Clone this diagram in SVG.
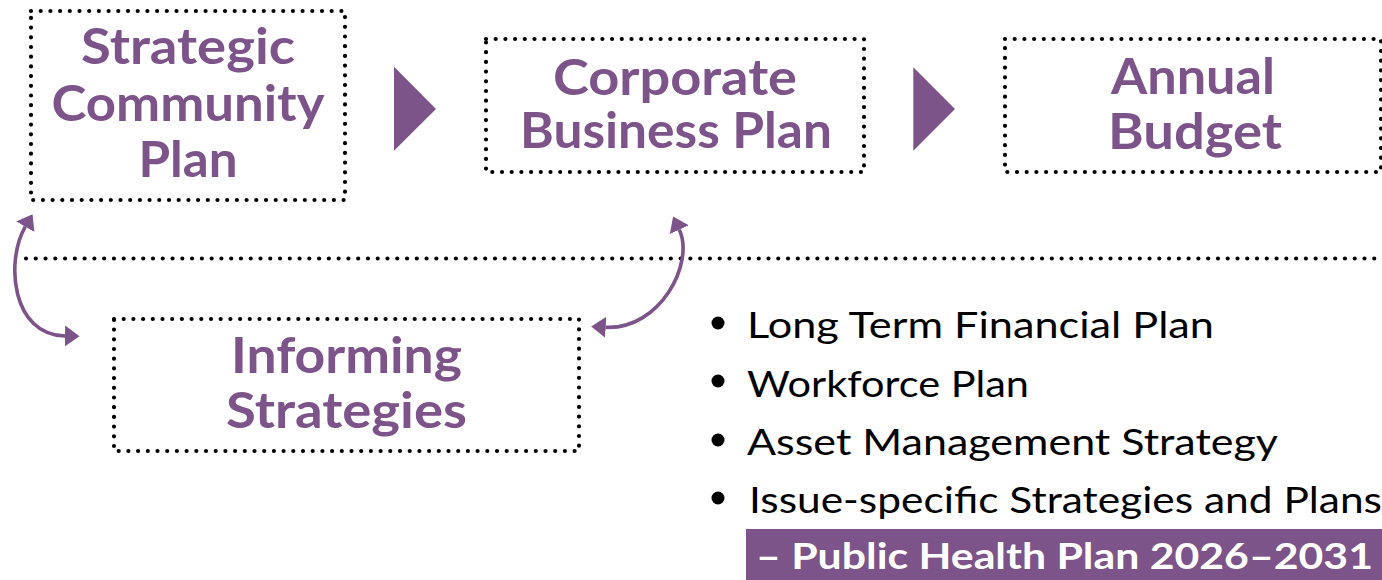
<svg xmlns="http://www.w3.org/2000/svg" width="1382" height="580" viewBox="0 0 1382 580">
  <style>
    .box { fill: none; stroke: #000; stroke-width: 4.2; stroke-linecap: round; stroke-dasharray: 0 9.7; }
    .divider { fill: none; stroke: #000; stroke-width: 4.2; stroke-linecap: round; stroke-dasharray: 0 9.77; }
    .title { font-family: Lato, "Open Sans", "Liberation Sans", sans-serif; font-weight: 700; font-size: 49px; fill: #7D5489; text-anchor: middle; }
    .item { font-family: Lato, "Open Sans", "Liberation Sans", sans-serif; font-weight: 400; font-size: 37.5px; fill: #000; }
    .highlight { font-family: Lato, "Open Sans", "Liberation Sans", sans-serif; font-weight: 700; font-size: 37px; fill: #fff; }
    .flow { fill: #7D5489; }
    .link { fill: none; stroke: #7D5489; stroke-width: 3.6; }
  </style>
  <defs>
    <marker id="head" markerUnits="userSpaceOnUse" viewBox="0 -11 15 22" refX="0" refY="0" markerWidth="15" markerHeight="22" orient="auto-start-reverse">
      <path d="M0,-10.5 L14.5,0 L0,10.5 Z" fill="#7D5489"/>
    </marker>
  </defs>

  <!-- background -->
  <rect x="0" y="0" width="1382" height="580" fill="#fff"/>

  <!-- dotted divider between plans and informing strategies -->
  <path class="divider" d="M26,258.5 H1382"/>

  <!-- plan boxes -->
  <g id="strategic-community-plan">
    <rect class="box" x="31" y="11" width="314" height="189"/>
    <text class="title" x="188" y="64" textLength="214" lengthAdjust="spacingAndGlyphs">Strategic</text>
    <text class="title" x="188" y="121" textLength="273" lengthAdjust="spacingAndGlyphs">Community</text>
    <text class="title" x="188" y="177" textLength="99" lengthAdjust="spacingAndGlyphs">Plan</text>
  </g>

  <g id="corporate-business-plan">
    <rect class="box" x="486" y="39" width="378" height="133"/>
    <text class="title" x="675" y="95" textLength="244" lengthAdjust="spacingAndGlyphs">Corporate</text>
    <text class="title" x="676" y="148" textLength="312" lengthAdjust="spacingAndGlyphs">Business Plan</text>
  </g>

  <g id="annual-budget">
    <rect class="box" x="1005" y="39" width="376" height="133"/>
    <text class="title" x="1193" y="94" textLength="164" lengthAdjust="spacingAndGlyphs">Annual</text>
    <text class="title" x="1195" y="149" textLength="174" lengthAdjust="spacingAndGlyphs">Budget</text>
  </g>

  <g id="informing-strategies">
    <rect class="box" x="114" y="319" width="465" height="132"/>
    <text class="title" x="346.5" y="373" textLength="231" lengthAdjust="spacingAndGlyphs">Informing</text>
    <text class="title" x="346.5" y="428" textLength="241" lengthAdjust="spacingAndGlyphs">Strategies</text>
  </g>

  <!-- informing strategies list -->
  <g id="strategy-list">
    <circle cx="718" cy="323" r="6.5" fill="#000"/>
    <text class="item" x="747" y="338" textLength="467" lengthAdjust="spacingAndGlyphs">Long Term Financial Plan</text>
    <circle cx="718" cy="381" r="6.5" fill="#000"/>
    <text class="item" x="747" y="397" textLength="282" lengthAdjust="spacingAndGlyphs">Workforce Plan</text>
    <circle cx="718" cy="440" r="6.5" fill="#000"/>
    <text class="item" x="747" y="455" textLength="531" lengthAdjust="spacingAndGlyphs">Asset Management Strategy</text>
    <circle cx="718" cy="498" r="6.5" fill="#000"/>
    <text class="item" x="749" y="513" textLength="633" lengthAdjust="spacingAndGlyphs">Issue-specific Strategies and Plans</text>
    <rect x="746" y="529" width="636" height="51" fill="#7D5489"/>
    <text class="highlight" x="756" y="569" textLength="617" lengthAdjust="spacingAndGlyphs">– Public Health Plan 2026–2031</text>
  </g>

  <!-- connectors -->
  <g id="connectors">
    <polygon class="flow" points="394,66.7 436,109 394,150.7"/>
    <polygon class="flow" points="913.3,67.3 955,109 913.3,150.7"/>
    <path class="link" d="M25.3,226.7 C5,262 12,335 65,336" marker-start="url(#head)" marker-end="url(#head)"/>
    <path class="link" d="M605.7,327.3 C660,330 695,263 679.3,229.7" marker-start="url(#head)" marker-end="url(#head)"/>
  </g>
</svg>
